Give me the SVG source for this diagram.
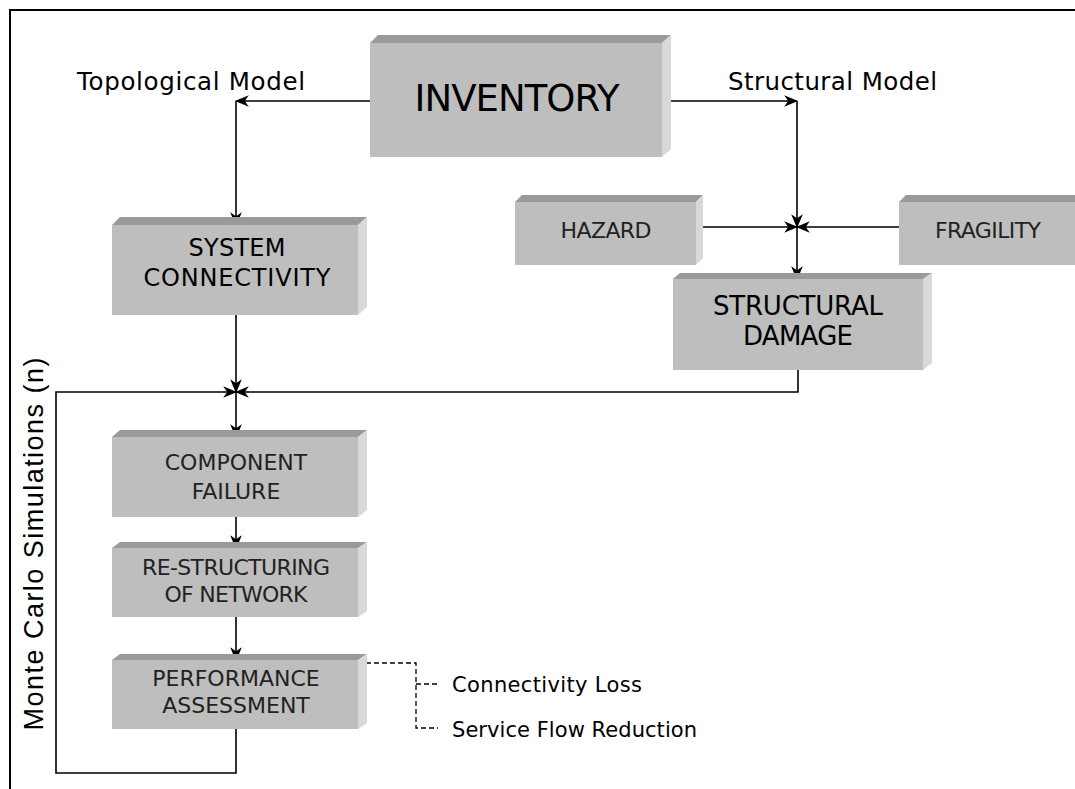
<svg xmlns="http://www.w3.org/2000/svg" width="1075" height="789" viewBox="0 0 1075 789">
<defs>
<marker id="ah" viewBox="0 0 12 10" refX="11" refY="5" markerWidth="14" markerHeight="12" markerUnits="userSpaceOnUse" orient="auto">
<path d="M0,0 L12,5 L0,10 L3.5,5 z" fill="#000"/>
</marker>
<style>
.front{fill:#bebebe}
.top{fill:#9a9a9a}
.side{fill:#d9d9d9}
.bt{font-family:"DejaVu Sans","Verdana",sans-serif;fill:#000;text-anchor:middle}
.lt{font-family:"DejaVu Sans","Verdana",sans-serif;fill:#222;text-anchor:middle}
.lbl{font-family:"DejaVu Sans","Verdana",sans-serif;fill:#000}
.c{fill:none;stroke:#000;stroke-width:1.6}
.a{marker-end:url(#ah)}
.d{fill:none;stroke:#000;stroke-width:1.3;stroke-dasharray:5,3}
</style>
</defs>
<rect width="1075" height="789" fill="#fff"/>
<rect x="10" y="10" width="1100" height="800" fill="none" stroke="#000" stroke-width="2"/>

<g id="connectors">
<path class="c a" d="M370,101 H236"/>
<path class="c a" d="M236,101 V225"/>
<path class="c a" d="M671,101 H797"/>
<path class="c a" d="M797,101 V227"/>
<path class="c a" d="M797,227 V279"/>
<path class="c a" d="M696,227 H797"/>
<path class="c a" d="M899,227 H797"/>
<path class="c a" d="M236,315 V392"/>
<path class="c a" d="M798,370 V392 H236"/>
<path class="c a" d="M236,729 V773 H56 V392 H236"/>
<path class="c a" d="M236,392 V437"/>
<path class="c a" d="M236,517 V548"/>
<path class="c a" d="M236,617 V660"/>
<path class="d" d="M358,663 H416 V728 H438 M416,684 H438"/>
</g>

<g id="inventory">
<polygon class="top" points="370,43 378,35 671,35 662,43"/>
<polygon class="side" points="662,43 671,35 671,149 662,157"/>
<rect class="front" x="370" y="43" width="292" height="114"/>
<text class="bt" x="517" y="111" font-size="37" textLength="205" lengthAdjust="spacing">INVENTORY</text>
</g>

<g id="system-connectivity">
<polygon class="top" points="112,225 120,217 367,217 358,225"/>
<polygon class="side" points="358,225 367,217 367,307 358,315"/>
<rect class="front" x="112" y="225" width="246" height="90"/>
<text class="bt" x="237" y="256" font-size="24" textLength="97" lengthAdjust="spacing">SYSTEM</text>
<text class="bt" x="237" y="286" font-size="24" textLength="187" lengthAdjust="spacing">CONNECTIVITY</text>
</g>

<g id="hazard">
<polygon class="top" points="515,202 522,195 703,195 696,202"/>
<polygon class="side" points="696,202 703,195 703,258 696,265"/>
<rect class="front" x="515" y="202" width="181" height="63"/>
<text class="lt" x="606" y="238" font-size="22" textLength="91" lengthAdjust="spacing">HAZARD</text>
</g>

<g id="fragility">
<polygon class="top" points="899,202 906,195 1090,195 1090,202"/>
<rect class="front" x="899" y="202" width="190" height="63"/>
<text class="lt" x="988" y="238" font-size="22" textLength="106" lengthAdjust="spacing">FRAGILITY</text>
</g>

<g id="structural-damage">
<polygon class="top" points="673,279 680,273 932,273 923,279"/>
<polygon class="side" points="923,279 932,273 932,363 923,370"/>
<rect class="front" x="673" y="279" width="250" height="91"/>
<text class="bt" x="798" y="315" font-size="26" textLength="170" lengthAdjust="spacing">STRUCTURAL</text>
<text class="bt" x="798" y="345" font-size="26" textLength="110" lengthAdjust="spacing">DAMAGE</text>
</g>

<g id="component-failure">
<polygon class="top" points="112,437 120,430 367,430 358,437"/>
<polygon class="side" points="358,437 367,430 367,510 358,517"/>
<rect class="front" x="112" y="437" width="246" height="80"/>
<text class="lt" x="236" y="470" font-size="22">COMPONENT</text>
<text class="lt" x="236" y="499" font-size="22">FAILURE</text>
</g>

<g id="restructuring">
<polygon class="top" points="112,548 120,542 367,542 358,548"/>
<polygon class="side" points="358,548 367,542 367,611 358,617"/>
<rect class="front" x="112" y="548" width="246" height="69"/>
<text class="lt" x="236" y="575" font-size="22" textLength="188" lengthAdjust="spacing">RE-STRUCTURING</text>
<text class="lt" x="236" y="602" font-size="22" textLength="143" lengthAdjust="spacing">OF NETWORK</text>
</g>

<g id="performance-assessment">
<polygon class="top" points="112,660 120,654 367,654 358,660"/>
<polygon class="side" points="358,660 367,654 367,723 358,729"/>
<rect class="front" x="112" y="660" width="246" height="69"/>
<text class="lt" x="236" y="686" font-size="22">PERFORMANCE</text>
<text class="lt" x="236" y="713" font-size="22">ASSESSMENT</text>
</g>

<g id="labels">
<text class="lbl" x="77" y="90" font-size="24.5" textLength="228" lengthAdjust="spacing">Topological Model</text>
<text class="lbl" x="728" y="90" font-size="24.5" textLength="209" lengthAdjust="spacing">Structural Model</text>
<text class="lbl" x="452" y="692" font-size="21" fill="#222" textLength="190" lengthAdjust="spacing">Connectivity Loss</text>
<text class="lbl" x="452" y="737" font-size="21" fill="#222" textLength="245" lengthAdjust="spacing">Service Flow Reduction</text>
<text transform="translate(43,544) rotate(-90)" x="0" y="0" font-family="'Liberation Sans', Arial, sans-serif" font-size="27" text-anchor="middle" textLength="373" lengthAdjust="spacing">Monte Carlo Simulations (n)</text>
</g>
</svg>
